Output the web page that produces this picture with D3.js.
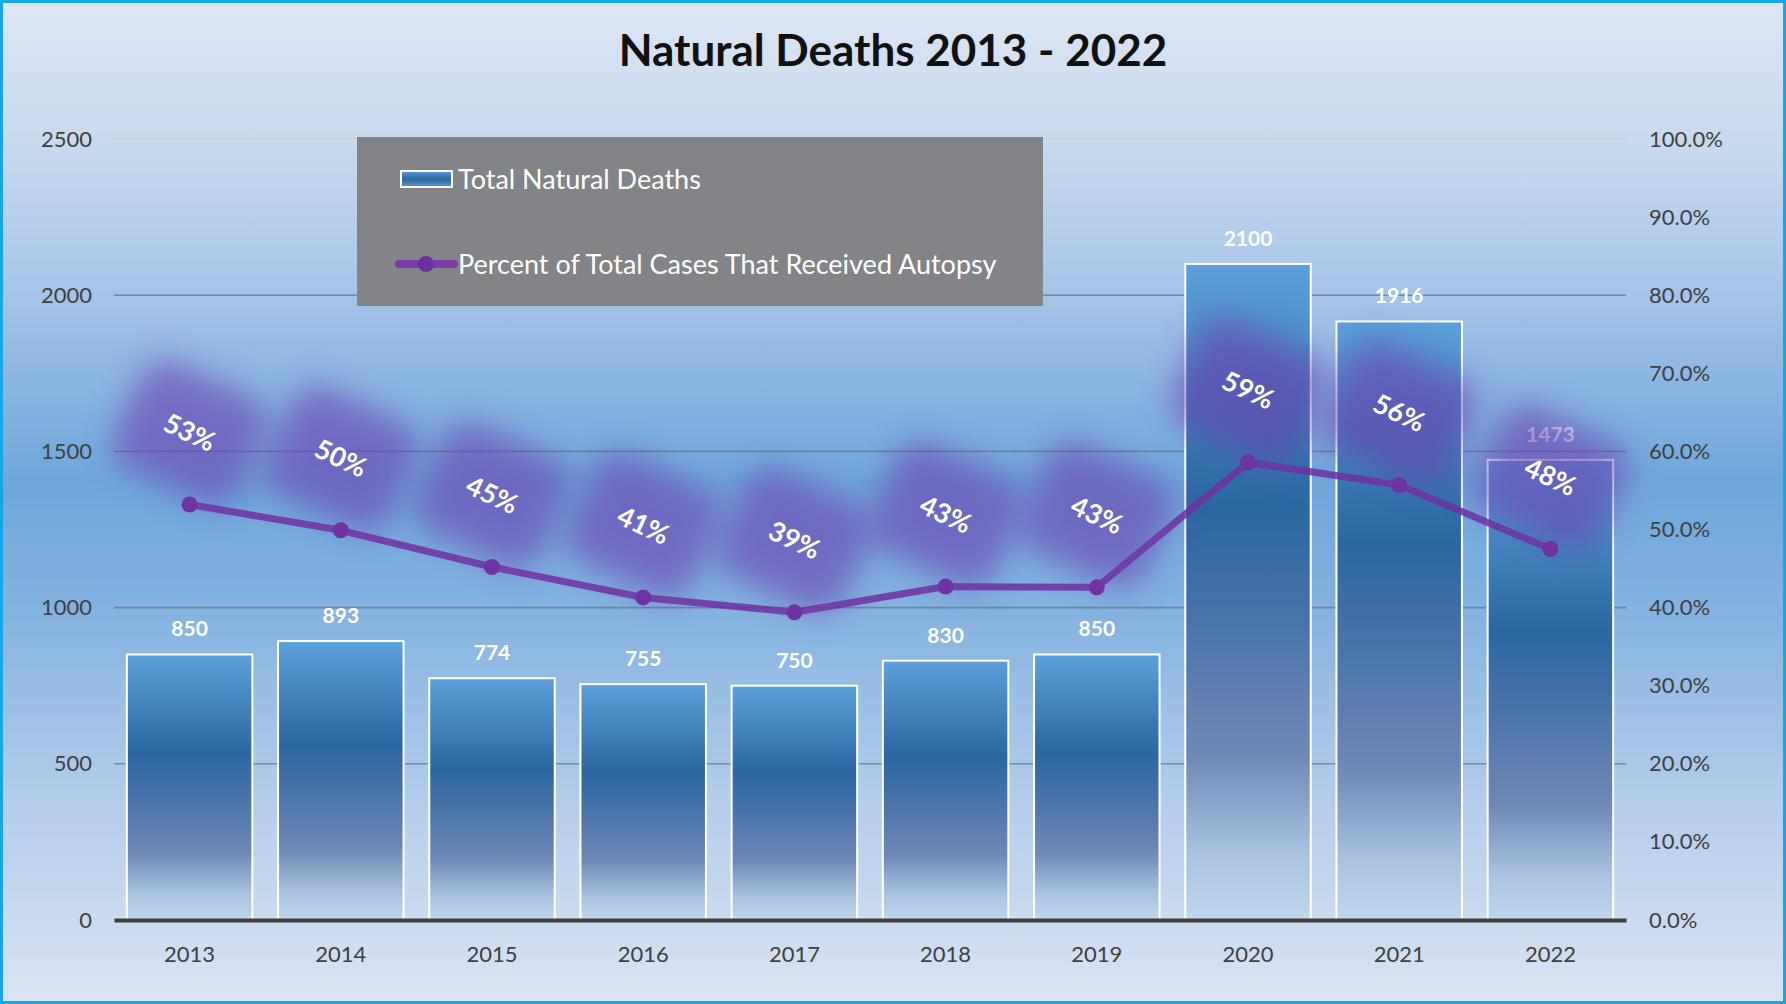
<!DOCTYPE html>
<html>
<head>
<meta charset="utf-8">
<script src="https://cdn.jsdelivr.net/npm/d3@7"></script>
<style>
  body { margin: 0; background: #fff; }
  svg { display: block; font-family: Lato, "Open Sans", sans-serif; }
</style>
</head>
<body>
<script>
// chart data
var years = ["2013", "2014", "2015", "2016", "2017", "2018", "2019", "2020", "2021", "2022"];
var totalDeaths = [850, 893, 774, 755, 750, 830, 850, 2100, 1916, 1473];
var autopsyPct = [0.532, 0.499, 0.452, 0.413, 0.394, 0.427, 0.426, 0.586, 0.557, 0.475];
var pctLabels = ["53%", "50%", "45%", "41%", "39%", "43%", "43%", "59%", "56%", "48%"];
var leftTicks = [0, 500, 1000, 1500, 2000, 2500];
var rightTicks = [0, 0.1, 0.2, 0.3, 0.4, 0.5, 0.6, 0.7, 0.8, 0.9, 1.0];

var W = 1786, H = 1004;
var margin = {top: 139, right: 160, bottom: 84, left: 114},
    width = W - margin.left - margin.right,
    height = H - margin.top - margin.bottom;

var svg = d3.select("body").append("svg")
    .attr("width", W)
    .attr("height", H);

var defs = svg.append("defs");

// background gradient
var bg = defs.append("linearGradient").attr("id", "bg")
    .attr("x1", 0).attr("y1", 0).attr("x2", 0).attr("y2", 1);
[[0, "#dde6f5"], [0.15, "#c7d9ef"], [0.3, "#a3c3e7"], [0.48, "#6ea6da"],
 [0.6, "#82b2df"], [0.8, "#b4cdeb"], [1, "#dbe4f4"]].forEach(function(s) {
  bg.append("stop").attr("offset", s[0]).attr("stop-color", s[1]);
});

// bar gradient
var bar = defs.append("linearGradient").attr("id", "barfill")
    .attr("x1", 0).attr("y1", 0).attr("x2", 0).attr("y2", 1);
[[0, "#5da0d9"], [0.37, "#2b67a1"], [0.55, "#4a74a9"], [0.75, "#6f89b6"],
 [0.9, "#a9c2e0"], [1, "#bfd8ee"]].forEach(function(s) {
  bar.append("stop").attr("offset", s[0]).attr("stop-color", s[1]);
});

// legend swatch gradient
var sw = defs.append("linearGradient").attr("id", "swatch")
    .attr("x1", 0).attr("y1", 0).attr("x2", 0).attr("y2", 1);
[[0, "#5a9ad4"], [0.5, "#2b67a1"], [1, "#5a9ad4"]].forEach(function(s) {
  sw.append("stop").attr("offset", s[0]).attr("stop-color", s[1]);
});

defs.append("filter").attr("id", "glow")
    .attr("x", "-70%").attr("y", "-70%").attr("width", "240%").attr("height", "240%")
  .append("feGaussianBlur").attr("stdDeviation", 16);

svg.append("rect")
    .attr("width", W).attr("height", H)
    .attr("fill", "url(#bg)");

// title
svg.append("text")
    .attr("x", 893).attr("y", 66)
    .attr("text-anchor", "middle")
    .attr("font-size", 44)
    .attr("font-weight", "bold")
    .attr("fill", "#111")
    .text("Natural Deaths 2013 - 2022");

var g = svg.append("g")
    .attr("transform", "translate(" + margin.left + "," + margin.top + ")");

// scales
var x = d3.scaleBand().domain(years).range([0, width]).paddingInner(0.17).paddingOuter(0.085);
var y = d3.scaleLinear().domain([0, 2500]).range([height, 0]);
var y2 = d3.scaleLinear().domain([0, 1]).range([height, 0]);

// gridlines
g.selectAll(".grid").data(leftTicks.slice(1)).enter().append("line")
    .attr("x1", 0).attr("x2", width)
    .attr("y1", function(d) { return y(d); })
    .attr("y2", function(d) { return y(d); })
    .attr("stroke", function(d) { return d === 2500 ? "#c9d0da" : "#6a7a8e"; })
    .attr("stroke-width", 1.6)
    .attr("opacity", 0.8);

// left axis
var yAxis = g.append("g")
    .call(d3.axisLeft(y).tickValues(leftTicks).tickFormat(d3.format("d")).tickSize(0).tickPadding(22));
yAxis.select(".domain").remove();
yAxis.selectAll("text").attr("font-size", 22).attr("fill", "#404040")
    .attr("font-family", "Lato, sans-serif");

// right axis
var yAxis2 = g.append("g").attr("transform", "translate(" + width + ",0)")
    .call(d3.axisRight(y2).tickValues(rightTicks).tickFormat(d3.format(".1%")).tickSize(0).tickPadding(23));
yAxis2.select(".domain").remove();
yAxis2.selectAll("text").attr("font-size", 22).attr("fill", "#404040")
    .attr("font-family", "Lato, sans-serif");

// bars
g.selectAll(".bar").data(totalDeaths).enter().append("rect")
    .attr("x", function(d, i) { return x(years[i]); })
    .attr("y", function(d) { return y(d); })
    .attr("width", x.bandwidth())
    .attr("height", function(d) { return height - y(d); })
    .attr("fill", "url(#barfill)")
    .attr("stroke", "#fff")
    .attr("stroke-width", 2);

// bar value labels
g.selectAll(".barlabel").data(totalDeaths).enter().append("text")
    .attr("x", function(d, i) { return x(years[i]) + x.bandwidth() / 2; })
    .attr("y", function(d) { return y(d) - 18; })
    .attr("text-anchor", "middle")
    .attr("font-size", 21)
    .attr("font-weight", "bold")
    .attr("fill", "#fff")
    .text(function(d) { return d; });

// x axis
var xAxis = g.append("g").attr("transform", "translate(0," + height + ")")
    .call(d3.axisBottom(x).tickSize(0).tickPadding(26));
xAxis.select(".domain").attr("stroke", "#404040").attr("stroke-width", 4);
xAxis.selectAll("text").attr("font-size", 22).attr("fill", "#404040")
    .attr("font-family", "Lato, sans-serif");

// percent line
var line = d3.line()
    .x(function(d, i) { return x(years[i]) + x.bandwidth() / 2; })
    .y(function(d) { return y2(d); });

g.append("path")
    .datum(autopsyPct)
    .attr("d", line)
    .attr("fill", "none")
    .attr("stroke", "#7030a0")
    .attr("stroke-opacity", 0.85)
    .attr("stroke-width", 7)
    .attr("stroke-linejoin", "round");

g.selectAll(".pt").data(autopsyPct).enter().append("circle")
    .attr("cx", function(d, i) { return x(years[i]) + x.bandwidth() / 2; })
    .attr("cy", function(d) { return y2(d); })
    .attr("r", 8)
    .attr("fill", "#7030a0");

// percent labels with purple glow
var lab = g.selectAll(".pct").data(autopsyPct).enter().append("g")
    .attr("transform", function(d, i) {
      return "translate(" + (x(years[i]) + x.bandwidth() / 2) + "," + (y2(d) - 72) + ") rotate(25)";
    });

lab.append("rect")
    .attr("x", -68).attr("y", -58)
    .attr("width", 136).attr("height", 116)
    .attr("rx", 26)
    .attr("fill", "#6a40b0")
    .attr("opacity", 0.6)
    .attr("filter", "url(#glow)");

lab.append("text")
    .attr("text-anchor", "middle")
    .attr("dy", "0.35em")
    .attr("font-size", 27)
    .attr("font-weight", "bold")
    .attr("fill", "#fff")
    .text(function(d, i) { return pctLabels[i]; });

// legend
var leg = svg.append("g").attr("transform", "translate(357,137)");
leg.append("rect").attr("width", 686).attr("height", 169).attr("fill", "#828488");
leg.append("rect").attr("x", 44).attr("y", 34).attr("width", 51).attr("height", 16)
    .attr("fill", "url(#swatch)").attr("stroke", "#fff").attr("stroke-width", 2);
leg.append("text").attr("x", 101).attr("y", 52)
    .attr("font-size", 27).attr("fill", "#fff").text("Total Natural Deaths");
leg.append("line").attr("x1", 42).attr("x2", 97).attr("y1", 127).attr("y2", 127)
    .attr("stroke", "#7a3aa8").attr("stroke-width", 8).attr("stroke-linecap", "round");
leg.append("circle").attr("cx", 69).attr("cy", 127).attr("r", 8).attr("fill", "#6e2fa0");
leg.append("text").attr("x", 101).attr("y", 137)
    .attr("font-size", 27).attr("fill", "#fff").text("Percent of Total Cases That Received Autopsy");

// outer border
svg.append("rect")
    .attr("x", 1.5).attr("y", 1.5)
    .attr("width", W - 3).attr("height", H - 3)
    .attr("fill", "none")
    .attr("stroke", "#1aa6e6")
    .attr("stroke-width", 3);
</script>
</body>
</html>
